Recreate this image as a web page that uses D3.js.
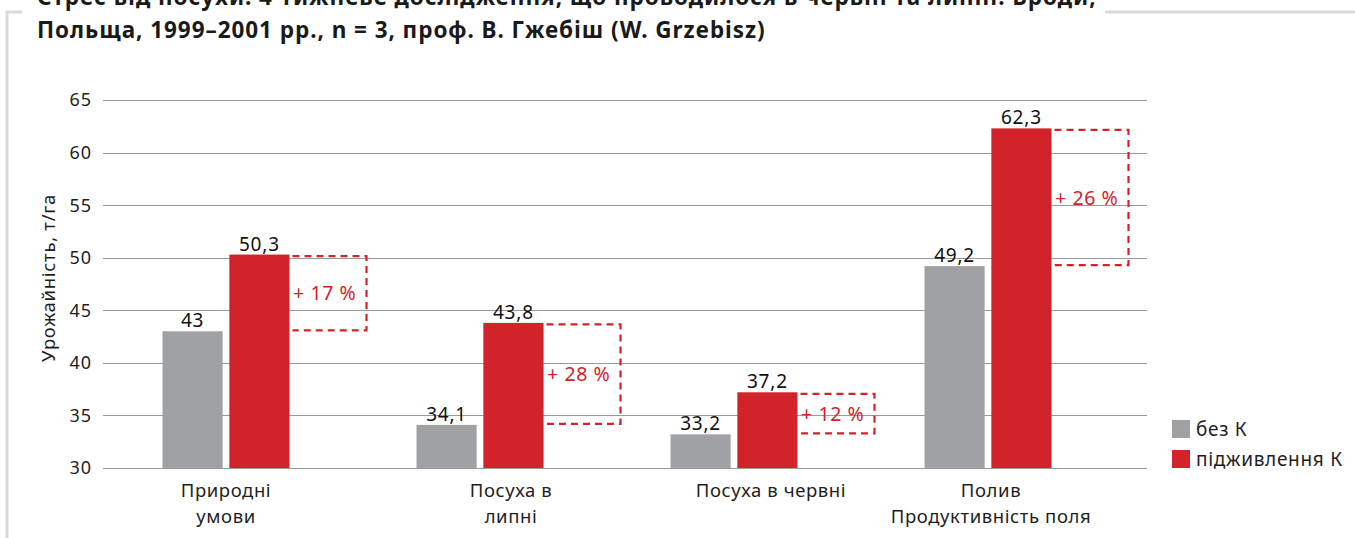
<!DOCTYPE html>
<html>
<head>
<meta charset="utf-8">
<script src="https://cdn.jsdelivr.net/npm/d3@7"></script>
<style>
    html, body { margin: 0; padding: 0; background: #fff; }
    svg { display: block; font-family: "Noto Sans", sans-serif; }
</style>
</head>
<body>
<svg id="chart" width="1355" height="538"></svg>
<script>
// Chart data
const titleLines = [
    "Стрес від посухи: 4-тижневе дослідження, що проводилося в червні та липні. Броди,",
    "Польща, 1999–2001 рр., n = 3, проф. В. Гжебіш (W. Grzebisz)"
];
const categories = [
    ["Природні", "умови"],
    ["Посуха в", "липні"],
    ["Посуха в червні"],
    ["Полив", "Продуктивність поля"]
];
const seriesNames = ["без К", "підживлення К"];
const withoutK = [43, 34.1, 33.2, 49.2];
const withK = [50.3, 43.8, 37.2, 62.3];
const valueLabels = [["43", "50,3"], ["34,1", "43,8"], ["33,2", "37,2"], ["49,2", "62,3"]];
const gainLabels = ["+ 17 %", "+ 28 %", "+ 12 %", "+ 26 %"];
const yTicks = [30, 35, 40, 45, 50, 55, 60, 65];
const yTitle = "Урожайність, т/га";

const colors = ["#a0a1a5", "#d2232a"];
const textColor = "#1e1e1e";

const svg = d3.select("#chart");

// light frame around the chart, broken by the title
const frame = svg.append("g").attr("stroke", "#d9d9d9").attr("stroke-width", 3).attr("fill", "none");
frame.append("path").attr("d", "M7,540 V12 H22");
frame.append("path").attr("d", "M1105,12 H1360");

// title
svg.append("g")
    .selectAll("text")
    .data(titleLines)
    .join("text")
    .attr("x", 37)
    .attr("y", (d, i) => 5 + i * 33)
    .attr("font-size", 22.5)
    .attr("font-weight", "bold")
    .attr("letter-spacing", 0.95)
    .attr("fill", "#1a1a1a")
    .text(d => d);

const y = d3.scaleLinear().domain([30, 65]).range([468, 100]);
const x0 = d3.scaleBand().domain(d3.range(categories.length)).range([99, 1115]);
const x1 = d3.scaleBand().domain([0, 1])
    .range([x0.bandwidth() / 2 - 63.5, x0.bandwidth() / 2 + 63.5])
    .paddingInner(0.1);

// gridlines
svg.append("g")
    .selectAll("line")
    .data(yTicks)
    .join("line")
    .attr("x1", 103).attr("x2", 1147)
    .attr("y1", d => Math.round(y(d)) + 0.5)
    .attr("y2", d => Math.round(y(d)) + 0.5)
    .attr("stroke", "#9a9a9a")
    .attr("stroke-width", 1.2);

// y tick labels
svg.append("g")
    .selectAll("text")
    .data(yTicks)
    .join("text")
    .attr("x", 92)
    .attr("y", d => y(d))
    .attr("dy", "0.36em")
    .attr("text-anchor", "end")
    .attr("font-size", 18)
    .attr("letter-spacing", 1)
    .attr("fill", textColor)
    .text(d => d);

svg.append("text")
    .attr("transform", "translate(55,278) rotate(-90)")
    .attr("text-anchor", "middle")
    .attr("font-size", 18.5)
    .attr("letter-spacing", 0.7)
    .attr("fill", textColor)
    .text(yTitle);

// bars
const groups = svg.append("g")
    .selectAll("g")
    .data(categories.map((c, i) => ({ i, vals: [withoutK[i], withK[i]] })))
    .join("g")
    .attr("transform", d => `translate(${x0(d.i)},0)`);

groups.selectAll("rect")
    .data(d => d.vals.map((v, s) => ({ v, s })))
    .join("rect")
    .attr("x", d => x1(d.s))
    .attr("width", x1.bandwidth())
    .attr("y", d => y(d.v))
    .attr("height", d => y(30) - y(d.v))
    .attr("fill", d => colors[d.s]);

groups.selectAll("text.val")
    .data(d => d.vals.map((v, s) => ({ v, s, lbl: valueLabels[d.i][s] })))
    .join("text")
    .attr("class", "val")
    .attr("x", d => x1(d.s) + x1.bandwidth() / 2)
    .attr("y", d => y(d.v) - 4)
    .attr("text-anchor", "middle")
    .attr("font-size", 19)
    .attr("letter-spacing", 0.8)
    .attr("fill", "#111")
    .text(d => d.lbl);

// dashed gain brackets
const bracketW = 77;
groups.each(function(d) {
    const g = d3.select(this);
    const xl = x1(1) + x1.bandwidth() + 3;
    const xr = x1(1) + x1.bandwidth() + bracketW;
    const yt = y(d.vals[1]) + 1.5;
    const yb = y(d.vals[0]) - 1;
    g.append("path")
        .attr("d", `M${xl},${yt} H${xr} V${yb} H${xl}`)
        .attr("fill", "none")
        .attr("stroke", colors[1])
        .attr("stroke-width", 2.2)
        .attr("stroke-dasharray", "7,5");
    g.append("text")
        .attr("x", xl + 0.5)
        .attr("y", (yt + yb) / 2)
        .attr("dy", "0.36em")
        .attr("font-size", 19.5)
        .attr("letter-spacing", 0.6)
        .attr("fill", colors[1])
        .text(gainLabels[d.i]);
});

// category labels (the middle two sit under bars + bracket)
const labelShift = [0, 31, 37, 3];
svg.append("g")
    .selectAll("text")
    .data(categories)
    .join("text")
    .attr("x", (d, i) => x0(i) + x0.bandwidth() / 2 + labelShift[i])
    .attr("y", 497)
    .attr("text-anchor", "middle")
    .attr("font-size", 18.5)
    .attr("letter-spacing", 0.6)
    .attr("fill", textColor)
    .selectAll("tspan")
    .data(d => d)
    .join("tspan")
    .attr("x", function() { return this.parentNode.getAttribute("x"); })
    .attr("dy", (d, i) => i === 0 ? 0 : 26)
    .text(d => d);

// legend
const legend = svg.append("g").attr("transform", "translate(1172,420)");
legend.selectAll("rect")
    .data(seriesNames)
    .join("rect")
    .attr("x", 0)
    .attr("y", (d, i) => i * 30)
    .attr("width", 18)
    .attr("height", 18)
    .attr("fill", (d, i) => colors[i]);
legend.selectAll("text")
    .data(seriesNames)
    .join("text")
    .attr("x", 24)
    .attr("y", (d, i) => i * 30 + 9)
    .attr("dy", "0.36em")
    .attr("font-size", 19)
    .attr("letter-spacing", 0.7)
    .attr("fill", textColor)
    .text(d => d);
</script>
</body>
</html>
